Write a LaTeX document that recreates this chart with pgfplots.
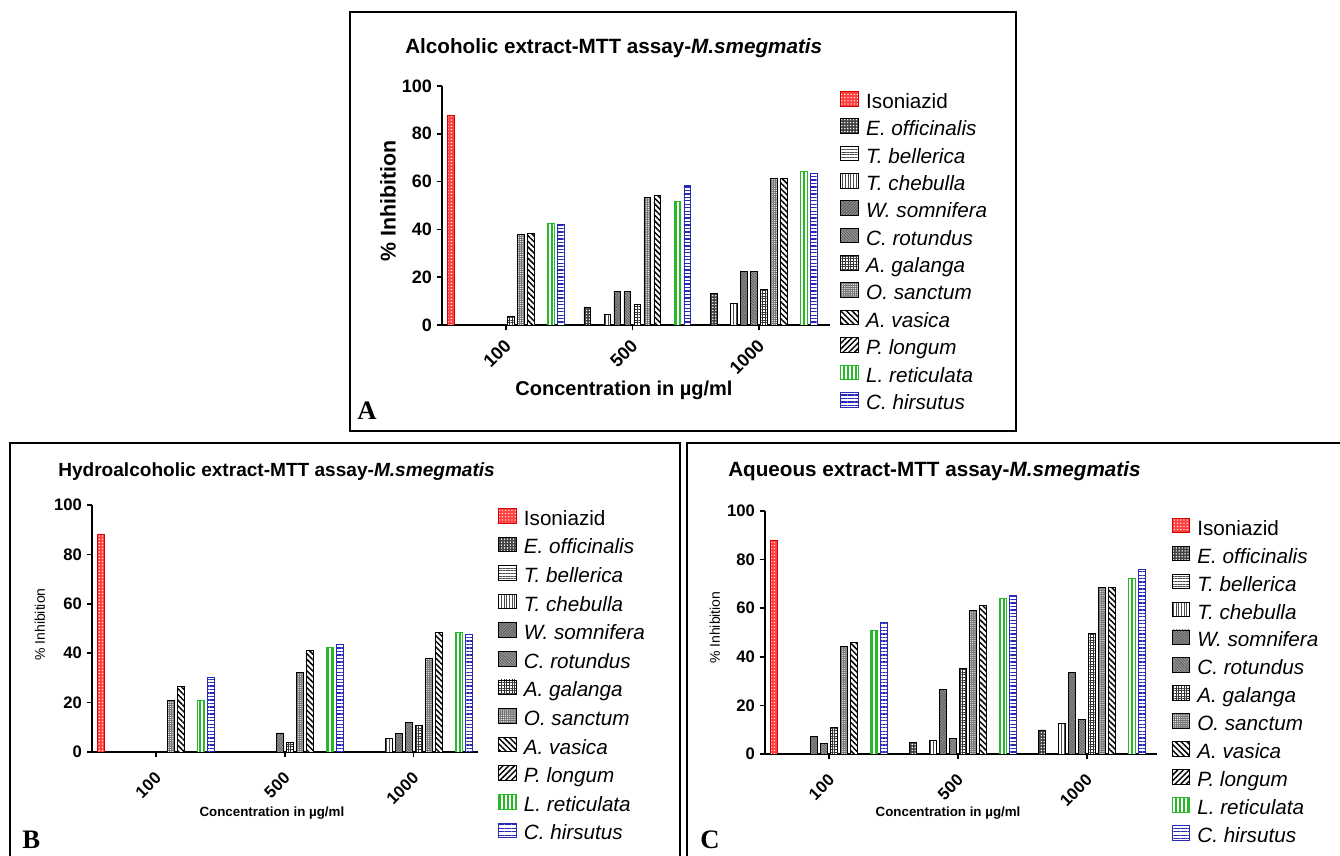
\documentclass[border=0pt]{standalone}
\usepackage{fontspec}
\setmainfont{Liberation Sans}
\newfontfamily\timesf{Liberation Serif}
\usepackage{pgfplots}
\pgfplotsset{compat=1.18}
\usetikzlibrary{patterns,patterns.meta}
\definecolor{lgreen}{RGB}{40,185,40}
\definecolor{lblue}{RGB}{40,40,185}
\tikzset{
 sIso/.style={draw=red!85!black, fill=red!75, postaction={pattern={Dots[distance=2.4pt,radius=0.55pt]}, pattern color=white}},
 sEof/.style={draw=black, fill=black!75, postaction={pattern={Dots[distance=2.2pt,radius=0.6pt]}, pattern color=white}},
 sTbe/.style={draw=black, fill=white, postaction={pattern={Lines[angle=0,distance=2pt,line width=0.6pt]}, pattern color=black!70}},
 sTch/.style={draw=black, fill=white, postaction={pattern={Lines[angle=90,distance=2pt,line width=0.6pt]}, pattern color=black!70}},
 sWso/.style={draw=black, fill=black!45, postaction={pattern={Lines[angle=45,distance=1.5pt,line width=0.4pt]}, pattern color=black!70}},
 sCro/.style={draw=black, fill=black!40, postaction={pattern={Lines[angle=-45,distance=1.5pt,line width=0.4pt]}, pattern color=black!70}},
 sAga/.style={draw=black, fill=white, postaction={pattern={Hatch[angle=0,distance=2pt,line width=0.5pt]}, pattern color=black!80}},
 sOsa/.style={draw=black, fill=black!55, postaction={pattern={Dots[distance=1.6pt,radius=0.45pt]}, pattern color=white}},
 sAva/.style={draw=black, fill=white, postaction={pattern={Lines[angle=-45,distance=3pt,line width=1.1pt]}, pattern color=black}},
 sPlo/.style={draw=black, fill=white, postaction={pattern={Lines[angle=45,distance=3pt,line width=1.1pt]}, pattern color=black}},
 sLre/.style={draw=lgreen, fill=white, postaction={pattern={Lines[angle=90,distance=3pt,line width=1pt]}, pattern color=lgreen}},
 sChi/.style={draw=lblue, fill=white, postaction={pattern={Lines[angle=0,distance=2.6pt,line width=1pt]}, pattern color=lblue}},
}
\pgfplotsset{
 panel/.style={
  scale only axis, anchor=south west,
  ymin=0, ymax=100,
  axis x line*=bottom, axis y line*=left,
  axis line style={line width=1.6pt, black},
  xtick={0,1,2}, xticklabels={100,500,1000},
  ytick={0,20,...,100},
  tick style={line width=1.3pt, black},
  major tick length=4pt, tick align=outside,
  /pgf/number format/assume math mode=true,
  ybar, bar width=5.2pt,
  every axis plot/.append style={line width=0.6pt},
  legend image code/.code={\draw[##1] (0pt,-2pt) rectangle (13pt,9pt);},
  legend cell align=left,
  legend style={draw=none, fill=none, inner sep=0pt, outer sep=0pt,
    font=\fontsize{15.5}{18}\selectfont, row sep=4pt,
    nodes={inner sep=0pt, text height=11pt, text depth=3.5pt},
    /tikz/every odd column/.append style={column sep=5.5pt}},
 },
}
\begin{document}
\begin{tikzpicture}[x=0.75pt,y=0.75pt]
\useasboundingbox (0,0) rectangle (1340,856);
\fill[white] (0,0) rectangle (1340,856);
% panel boxes
\draw[line width=1.9pt] (350,844) rectangle (1016,425);
\draw[line width=1.9pt] (10,-5) -- (10,413) -- (680,413) -- (680,-5);
\draw[line width=1.9pt] (687,-5) -- (687,413) -- (1345,413);

% ---------- Panel A ----------
\begin{axis}[panel, at={(331.5pt,398.25pt)}, width=291pt, height=179.25pt,
  xmin=-0.503, xmax=2.56,
  yticklabel style={font=\bfseries\fontsize{13.5}{15}\selectfont},
  xticklabel style={font=\bfseries\fontsize{13.5}{15}\selectfont, xshift=4pt, yshift=-7pt, rotate=45, anchor=east},
  ylabel={\% Inhibition}, ylabel style={font=\bfseries\fontsize{16}{18}\selectfont, at={(axis description cs:-0.139,0.519)}, anchor=center},
  xlabel={Concentration in µg/ml}, xlabel style={font=\bfseries\fontsize{15}{18}\selectfont, at={(axis description cs:0.469,-0.293)}, anchor=base},
  legend style={at={(axis description cs:1.026,0.979)}, anchor=north west, row sep=3.95pt},
]
\addplot[sIso, bar shift=-41.25pt] coordinates {(0,87.5)};
\addlegendentry{Isoniazid}
\addplot[sEof, bar shift=-33.75pt] coordinates {(1,7.3) (2,13.2)};
\addlegendentry{\textit{E. officinalis}}
\addlegendimage{sTbe}
\addlegendentry{\textit{T. bellerica}}
\addplot[sTch, bar shift=-18.75pt] coordinates {(1,4.5) (2,9)};
\addlegendentry{\textit{T. chebulla}}
\addplot[sWso, bar shift=-11.25pt] coordinates {(1,14) (2,22.5)};
\addlegendentry{\textit{W. somnifera}}
\addplot[sCro, bar shift=-3.75pt] coordinates {(1,14) (2,22.5)};
\addlegendentry{\textit{C. rotundus}}
\addplot[sAga, bar shift=3.75pt] coordinates {(0,3.8) (1,8.5) (2,15)};
\addlegendentry{\textit{A. galanga}}
\addplot[sOsa, bar shift=11.25pt] coordinates {(0,37.8) (1,53.3) (2,61.5)};
\addlegendentry{\textit{O. sanctum}}
\addplot[sAva, bar shift=18.75pt] coordinates {(0,38.3) (1,54.2) (2,61.5)};
\addlegendentry{\textit{A. vasica}}
\addlegendimage{sPlo}
\addlegendentry{\textit{P. longum}}
\addplot[sLre, bar shift=33.75pt] coordinates {(0,42.7) (1,51.8) (2,64.2)};
\addlegendentry{\textit{L. reticulata}}
\addplot[sChi, bar shift=41.25pt] coordinates {(0,42.2) (1,58.2) (2,63.5)};
\addlegendentry{\textit{C. hirsutus}}
\end{axis}

% ---------- Panel B ----------
\begin{axis}[panel, at={(69pt,78pt)}, width=289.5pt, height=185.25pt,
  xmin=-0.497, xmax=2.50,
  yticklabel style={font=\bfseries\fontsize{12.5}{14}\selectfont},
  xticklabel style={font=\bfseries\fontsize{12.5}{14}\selectfont, xshift=4pt, yshift=-11pt, rotate=45, anchor=east},
  ylabel={\% Inhibition}, ylabel style={font=\fontsize{10.5}{12}\selectfont, at={(axis description cs:-0.135,0.516)}, anchor=center},
  xlabel={Concentration in µg/ml}, xlabel style={font=\bfseries\fontsize{10}{12}\selectfont, at={(axis description cs:0.466,-0.263)}, anchor=base},
  legend style={at={(axis description cs:1.053,0.988)}, anchor=north west, row sep=4.9pt},
]
\addplot[sIso, bar shift=-41.25pt] coordinates {(0,88)};
\addlegendentry{Isoniazid}
\addlegendimage{sEof}
\addlegendentry{\textit{E. officinalis}}
\addlegendimage{sTbe}
\addlegendentry{\textit{T. bellerica}}
\addplot[sTch, bar shift=-18.75pt] coordinates {(2,5.5)};
\addlegendentry{\textit{T. chebulla}}
\addplot[sWso, bar shift=-11.25pt] coordinates {(2,7.5)};
\addlegendentry{\textit{W. somnifera}}
\addplot[sCro, bar shift=-3.75pt] coordinates {(1,7.7) (2,12)};
\addlegendentry{\textit{C. rotundus}}
\addplot[sAga, bar shift=3.75pt] coordinates {(1,4) (2,10.7)};
\addlegendentry{\textit{A. galanga}}
\addplot[sOsa, bar shift=11.25pt] coordinates {(0,20.8) (1,32.2) (2,38)};
\addlegendentry{\textit{O. sanctum}}
\addplot[sAva, bar shift=18.75pt] coordinates {(0,26.7) (1,41) (2,48.5)};
\addlegendentry{\textit{A. vasica}}
\addlegendimage{sPlo}
\addlegendentry{\textit{P. longum}}
\addplot[sLre, bar shift=33.75pt] coordinates {(0,20.9) (1,42.4) (2,48.5)};
\addlegendentry{\textit{L. reticulata}}
\addplot[sChi, bar shift=41.25pt] coordinates {(0,30.3) (1,43.7) (2,47.7)};
\addlegendentry{\textit{C. hirsutus}}
\end{axis}

% ---------- Panel C ----------
\begin{axis}[panel, at={(573.75pt,76.5pt)}, width=294pt, height=182.25pt,
  xmin=-0.499, xmax=2.543,
  yticklabel style={font=\bfseries\fontsize{12.5}{14}\selectfont},
  xticklabel style={font=\bfseries\fontsize{12.5}{14}\selectfont, xshift=4pt, yshift=-11pt, rotate=45, anchor=east},
  ylabel={\% Inhibition}, ylabel style={font=\fontsize{10.5}{12}\selectfont, at={(axis description cs:-0.128,0.52)}, anchor=center},
  xlabel={Concentration in µg/ml}, xlabel style={font=\bfseries\fontsize{10}{12}\selectfont, at={(axis description cs:0.467,-0.259)}, anchor=base},
  legend style={at={(axis description cs:1.038,0.972)}, anchor=north west, row sep=4.4pt},
]
\addplot[sIso, bar shift=-41.25pt] coordinates {(0,88)};
\addlegendentry{Isoniazid}
\addplot[sEof, bar shift=-33.75pt] coordinates {(1,4.8) (2,9.9)};
\addlegendentry{\textit{E. officinalis}}
\addlegendimage{sTbe}
\addlegendentry{\textit{T. bellerica}}
\addplot[sTch, bar shift=-18.75pt] coordinates {(1,5.5) (2,12.6)};
\addlegendentry{\textit{T. chebulla}}
\addplot[sWso, bar shift=-11.25pt] coordinates {(0,7.4) (1,26.6) (2,33.5)};
\addlegendentry{\textit{W. somnifera}}
\addplot[sCro, bar shift=-3.75pt] coordinates {(0,4.4) (1,6.4) (2,14.3)};
\addlegendentry{\textit{C. rotundus}}
\addplot[sAga, bar shift=3.75pt] coordinates {(0,10.8) (1,35.3) (2,49.7)};
\addlegendentry{\textit{A. galanga}}
\addplot[sOsa, bar shift=11.25pt] coordinates {(0,44.2) (1,59) (2,68.5)};
\addlegendentry{\textit{O. sanctum}}
\addplot[sAva, bar shift=18.75pt] coordinates {(0,46) (1,61) (2,68.5)};
\addlegendentry{\textit{A. vasica}}
\addlegendimage{sPlo}
\addlegendentry{\textit{P. longum}}
\addplot[sLre, bar shift=33.75pt] coordinates {(0,50.8) (1,64) (2,72.3)};
\addlegendentry{\textit{L. reticulata}}
\addplot[sChi, bar shift=41.25pt] coordinates {(0,54) (1,65.2) (2,76.1)};
\addlegendentry{\textit{C. hirsutus}}
\end{axis}

% titles and panel letters
\node[anchor=base west, inner sep=0pt, font=\bfseries\fontsize{15.5}{18}\selectfont] at (405,802) {Alcoholic extract-MTT assay-\textit{M.smegmatis}};
\node[anchor=base west, inner sep=0pt, font=\bfseries\fontsize{14.3}{17}\selectfont] at (58,379) {Hydroalcoholic extract-MTT assay-\textit{M.smegmatis}};
\node[anchor=base west, inner sep=0pt, font=\bfseries\fontsize{15.5}{18}\selectfont] at (728,379) {Aqueous extract-MTT assay-\textit{M.smegmatis}};
\node[anchor=base west, inner sep=0pt, font=\timesf\bfseries\fontsize{20}{22}\selectfont] at (357,436) {A};
\node[anchor=base west, inner sep=0pt, font=\timesf\bfseries\fontsize{20}{22}\selectfont] at (22,7) {B};
\node[anchor=base west, inner sep=0pt, font=\timesf\bfseries\fontsize{20}{22}\selectfont] at (700,7) {C};
\end{tikzpicture}
\end{document}
